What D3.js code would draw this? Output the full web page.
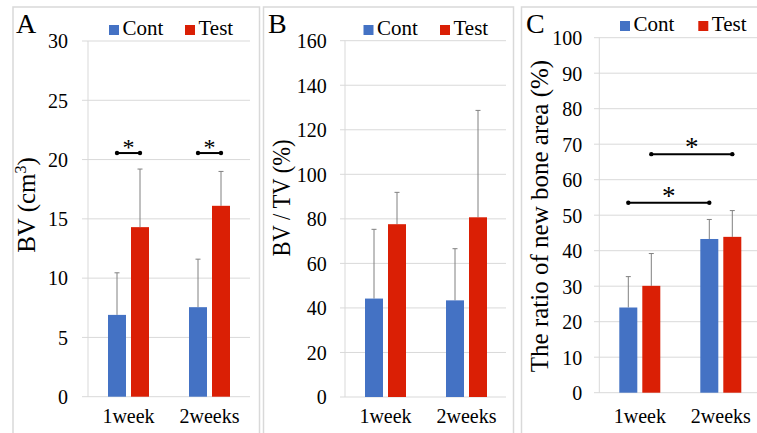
<!DOCTYPE html>
<html><head><meta charset="utf-8">
<script src="https://cdn.jsdelivr.net/npm/d3@7"></script>
<style>
body{margin:0;background:#fff;}
svg{display:block;}
</style></head>
<body>
<svg id="chart" width="757" height="433"></svg>
<script>
// ---- data ----
const categories = ["1week", "2weeks"];
const seriesNames = ["Cont", "Test"];
const seriesColors = ["#4472C4", "#DA1F05"];

// Panel A: BV (cm3)
const aCont = [6.9, 7.55];
const aContSD = [3.55, 4.05];
const aTest = [14.3, 16.1];
const aTestSD = [4.9, 2.9];
const aTicks = [0, 5, 10, 15, 20, 25, 30];
const aSig = [{from: ["1week", "Cont"], to: ["1week", "Test"], y: 20.55},
              {from: ["2weeks", "Cont"], to: ["2weeks", "Test"], y: 20.55}];

// Panel B: BV / TV (%)
const bCont = [44.2, 43.4];
const bContSD = [31.1, 23.2];
const bTest = [77.6, 80.7];
const bTestSD = [14.3, 48.0];
const bTicks = [0, 20, 40, 60, 80, 100, 120, 140, 160];
const bSig = [];

// Panel C: ratio of new bone area (%)
const cCont = [24.0, 43.3];
const cContSD = [8.7, 5.5];
const cTest = [30.1, 43.9];
const cTestSD = [9.1, 7.4];
const cTicks = [0, 10, 20, 30, 40, 50, 60, 70, 80, 90, 100];
const cSig = [{from: ["1week", "Cont"], to: ["2weeks", "Cont"], y: 53.5},
              {from: ["1week", "Test"], to: ["2weeks", "Test"], y: 67.2}];

const FONT = '"Liberation Serif", "Times New Roman", Times, serif';
const svg = d3.select("#chart");

const panels = [
  {letter: "A", frame: [13, 7, 246.5, 440], plotX: [88, 250], gridX0: 82, gridX1: 250,
   yRange: [396.7, 41], max: 30, ticks: aTicks, tickRight: 68,
   vals: [aCont, aTest], sds: [aContSD, aTestSD], sig: aSig, sigFont: 24,
   title: "BV (cm", sup: "3", titleEnd: ")", titleX: 35, titleY: 205,
   legend: [109, 185], legendY: 35, letterX: 16},
  {letter: "B", frame: [263.5, 7, 250, 440], plotX: [345, 507], gridX0: 340, gridX1: 506,
   yRange: [397, 40.7], max: 160, ticks: bTicks, tickRight: 326.7,
   vals: [bCont, bTest], sds: [bContSD, bTestSD], sig: bSig, sigFont: 24,
   title: "BV / TV  (%)", titleX: 290, titleY: 198, titleLen: 117,
   legend: [363.5, 440], legendY: 35, letterX: 268},
  {letter: "C", frame: [521.5, 7, 260, 440], plotX: [599.3, 761.3], gridX0: 594, gridX1: 757,
   yRange: [392.7, 37.7], max: 100, ticks: cTicks, tickRight: 582.3,
   vals: [cCont, cTest], sds: [cContSD, cTestSD], sig: cSig, sigFont: 27,
   title: "The ratio of new bone area (%)", titleX: 548, titleY: 216,
   legend: [620, 698.3], legendY: 31, letterX: 526}
];

panels.forEach(p => {
  const g = svg.append("g");
  g.append("rect").attr("x", p.frame[0]).attr("y", p.frame[1])
    .attr("width", p.frame[2]).attr("height", p.frame[3])
    .attr("fill", "none").attr("stroke", "#d9d9d9").attr("stroke-width", 1.5);

  const y = d3.scaleLinear().domain([0, p.max]).range(p.yRange);
  const x0 = d3.scaleBand().domain(categories).range(p.plotX).padding(0);
  const groupW = 41;
  const x1 = d3.scaleBand().domain(seriesNames).range([0, groupW]).paddingInner(5 / 23);
  const barX = (cat, s) => x0(cat) + x0.bandwidth() / 2 - groupW / 2 + x1(s);
  const barC = (cat, s) => barX(cat, s) + x1.bandwidth() / 2;

  g.append("g").selectAll("line").data(p.ticks).join("line")
    .attr("x1", p.gridX0).attr("x2", p.gridX1)
    .attr("y1", d => y(d)).attr("y2", d => y(d))
    .attr("stroke", "#d9d9d9").attr("stroke-width", 1);
  g.append("line").attr("x1", p.plotX[0]).attr("x2", p.plotX[0])
    .attr("y1", y(p.max)).attr("y2", y(0))
    .attr("stroke", "#d9d9d9").attr("stroke-width", 1);

  const yAxis = d3.axisLeft(y).tickValues(p.ticks).tickSize(0).tickPadding(0);
  const ya = g.append("g").attr("transform", `translate(${p.tickRight},0)`).call(yAxis);
  ya.select(".domain").remove();
  ya.selectAll("text").style("font-family", FONT).style("font-size", "20px")
    .attr("fill", "#000").attr("dy", "0.34em");

  const xAxis = d3.axisBottom(x0).tickSize(0).tickPadding(0);
  const xa = g.append("g").attr("transform", `translate(0,${422.5})`).call(xAxis);
  xa.select(".domain").remove();
  xa.selectAll("text").style("font-family", FONT).style("font-size", "20px")
    .attr("fill", "#000").attr("dy", 0);

  seriesNames.forEach((s, si) => {
    const data = categories.map((c, ci) => ({c, v: p.vals[si][ci], sd: p.sds[si][ci]}));
    const eg = g.append("g").attr("stroke", "#808080").attr("stroke-width", 1);
    eg.selectAll("line.v").data(data).join("line").attr("class", "v")
      .attr("x1", d => barC(d.c, s)).attr("x2", d => barC(d.c, s))
      .attr("y1", d => y(d.v)).attr("y2", d => y(d.v + d.sd));
    eg.selectAll("line.h").data(data).join("line").attr("class", "h")
      .attr("x1", d => barC(d.c, s) - 2.5).attr("x2", d => barC(d.c, s) + 2.5)
      .attr("y1", d => y(d.v + d.sd)).attr("y2", d => y(d.v + d.sd));
    g.append("g").selectAll("rect").data(data).join("rect")
      .attr("x", d => barX(d.c, s)).attr("width", x1.bandwidth())
      .attr("y", d => y(d.v)).attr("height", d => y(0) - y(d.v))
      .attr("fill", seriesColors[si]);
  });

  p.sig.forEach(sg => {
    const xa1 = barC(sg.from[0], sg.from[1]);
    const xa2 = barC(sg.to[0], sg.to[1]);
    const yy = y(sg.y);
    g.append("line").attr("x1", xa1).attr("x2", xa2).attr("y1", yy).attr("y2", yy)
      .attr("stroke", "#000").attr("stroke-width", 2);
    g.selectAll(null).data([xa1, xa2]).join("circle").attr("cx", d => d).attr("cy", yy)
      .attr("r", 2.2).attr("fill", "#000");
    g.append("text").attr("x", (xa1 + xa2) / 2).attr("y", yy + 2)
      .attr("text-anchor", "middle").style("font-family", FONT)
      .style("font-size", p.sigFont + "px").text("*");
  });

  seriesNames.forEach((s, si) => {
    g.append("rect").attr("x", p.legend[si]).attr("y", p.legendY - 10)
      .attr("width", 10).attr("height", 10).attr("fill", seriesColors[si]);
    g.append("text").attr("x", p.legend[si] + 13.5).attr("y", p.legendY)
      .style("font-family", FONT).style("font-size", "21px").attr("fill", "#000").text(s);
  });

  g.append("text").attr("x", p.letterX).attr("y", 33)
    .style("font-family", FONT).style("font-size", "28px")
    .attr("fill", "#000").text(p.letter);

  const t = g.append("text")
    .attr("transform", `translate(${p.titleX},${p.titleY}) rotate(-90)`)
    .attr("text-anchor", "middle").style("font-family", FONT)
    .style("font-size", "25px").attr("fill", "#000");
  if (p.sup) {
    t.append("tspan").text(p.title);
    t.append("tspan").style("font-size", "16px").attr("dy", -9).text(p.sup);
    t.append("tspan").attr("dy", 9).text(p.titleEnd);
  } else {
    t.text(p.title);
    if (p.titleLen) t.attr("textLength", p.titleLen).attr("lengthAdjust", "spacingAndGlyphs");
  }
});
</script>
</body></html>
